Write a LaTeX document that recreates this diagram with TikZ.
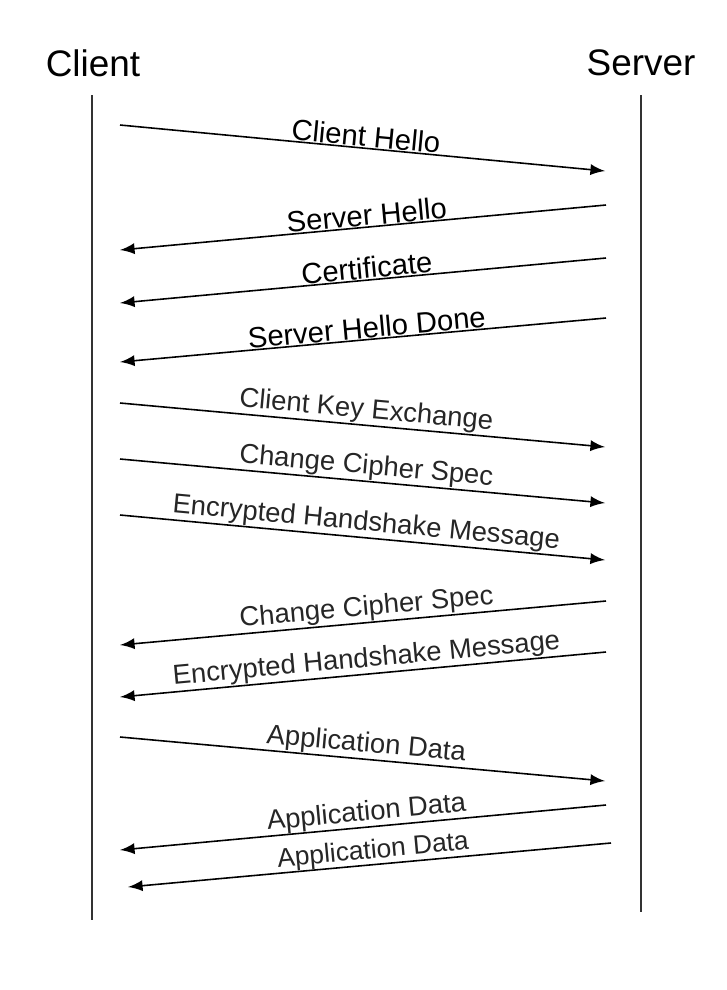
\documentclass[tikz,border=0pt]{standalone}
\usepackage{fontspec}
\setmainfont{Liberation Sans}
\usepackage{tikz}
\usetikzlibrary{arrows}
\usetikzlibrary{positioning}
\tikzstyle{party} = [inner sep=0pt, font=\fontsize{10.5}{12}\selectfont]
\tikzstyle{life} = [line width=0.55pt, draw=black!80]
\tikzstyle{msg} = [-latex, line width=0.45pt]
\tikzstyle{txt} = [pos=0.505, sloped, above, inner sep=0.2pt, font=\fontsize{8.3}{10}\selectfont]
\tikzstyle{txtb} = [pos=0.505, sloped, above, inner sep=0.2pt, font=\fontsize{7.8}{10}\selectfont, text=black!85]
\tikzstyle{back} = [pos=0.49]

\begin{document}
\begin{tikzpicture}[x=0.01cm, y=-0.01cm]
  \useasboundingbox (0,0) rectangle (726,990);

  \node (client) [party] at (93,63) {Client};
  \node (server) [party] at (641,63) {Server};
  \coordinate (cltop) at (92,95);
  \coordinate (clbot) at (92,920);
  \coordinate (svtop) at (641,95);
  \coordinate (svbot) at (641,912);
  \draw[life] (cltop) -- (clbot);
  \draw[life] (svtop) -- (svbot);

  \coordinate (c1) at (120,125);  \coordinate (s1) at (605,171);
  \coordinate (s2) at (606,205);  \coordinate (c2) at (120,250);
  \coordinate (s3) at (606,258);  \coordinate (c3) at (120,303);
  \coordinate (s4) at (606,318);  \coordinate (c4) at (120,362);
  \coordinate (c5) at (120,403);  \coordinate (s5) at (605,447);
  \coordinate (c6) at (120,459);  \coordinate (s6) at (605,503);
  \coordinate (c7) at (120,515);  \coordinate (s7) at (605,560);
  \coordinate (s8) at (606,601);  \coordinate (c8) at (120,645);
  \coordinate (s9) at (606,652);  \coordinate (c9) at (120,697);
  \coordinate (c10) at (120,737); \coordinate (s10) at (605,781);
  \coordinate (s11) at (606,805); \coordinate (c11) at (120,850);
  \coordinate (s12) at (611,843); \coordinate (c12) at (128,887);

  \draw[msg] (c1) -- node[txt] {Client Hello} (s1);
  \draw[msg] (s2) -- node[txt, back] {Server Hello} (c2);
  \draw[msg] (s3) -- node[txt, back] {Certificate} (c3);
  \draw[msg] (s4) -- node[txt, back] {Server Hello Done} (c4);
  \draw[msg] (c5) -- node[txtb] {Client Key Exchange} (s5);
  \draw[msg] (c6) -- node[txtb] {Change Cipher Spec} (s6);
  \draw[msg] (c7) -- node[txtb] {Encrypted Handshake Message} (s7);
  \draw[msg] (s8) -- node[txtb, back] {Change Cipher Spec} (c8);
  \draw[msg] (s9) -- node[txtb, back] {Encrypted Handshake Message} (c9);
  \draw[msg] (c10) -- node[txtb] {Application Data} (s10);
  \draw[msg] (s11) -- node[txtb, back, inner sep=0pt] {Application Data} (c11);
  \draw[msg] (s12) -- node[txtb, back, inner sep=0pt, font=\fontsize{7.5}{9}\selectfont] {Application Data} (c12);
\end{tikzpicture}
\end{document}
